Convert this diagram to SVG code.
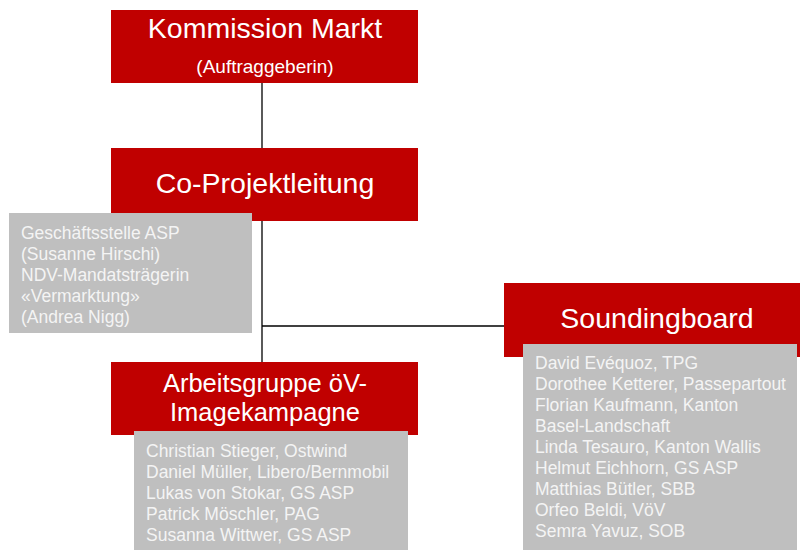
<svg xmlns="http://www.w3.org/2000/svg" width="800" height="550" viewBox="0 0 800 550">
  <style>
    .head { fill: #c00000; }
    .list { fill: #bfbfbf; }
    .title { font-family: "Liberation Sans", Arial, sans-serif; fill: #ffffff; text-anchor: middle; }
    .item { font-family: "Liberation Sans", Arial, sans-serif; font-size: 17.5px; fill: #f4f4f4; }
    .conn { stroke: #000000; stroke-width: 1.3; fill: none; }
  </style>
  <rect width="800" height="550" fill="#ffffff"/>

  <!-- connectors -->
  <g id="connectors">
    <line class="conn" x1="262" y1="83" x2="262" y2="148"/>
    <line class="conn" x1="262" y1="221" x2="262" y2="362"/>
    <line class="conn" x1="262" y1="326" x2="504" y2="326"/>
  </g>

  <g id="kommission-markt">
    <rect class="head" x="111" y="10" width="307" height="73"/>
    <text class="title" x="265" y="38" font-size="28.5">Kommission Markt</text>
    <text class="title" x="265" y="73" font-size="19">(Auftraggeberin)</text>
  </g>

  <g id="co-projektleitung">
    <rect class="head" x="111" y="148" width="307" height="73"/>
    <text class="title" x="265" y="193" font-size="28.5">Co-Projektleitung</text>
    <rect class="list" x="9" y="213" width="243" height="120"/>
    <text class="item" x="21" y="239">Geschäftsstelle ASP</text>
    <text class="item" x="21" y="260">(Susanne Hirschi)</text>
    <text class="item" x="21" y="281">NDV-Mandatsträgerin</text>
    <text class="item" x="21" y="302">«Vermarktung»</text>
    <text class="item" x="21" y="323">(Andrea Nigg)</text>
  </g>

  <g id="arbeitsgruppe">
    <rect class="head" x="111" y="362" width="307" height="73"/>
    <text class="title" x="265" y="392" font-size="25.5">Arbeitsgruppe öV-</text>
    <text class="title" x="265" y="421" font-size="25.5">Imagekampagne</text>
    <rect class="list" x="134" y="431" width="274" height="125"/>
    <text class="item" x="146" y="457">Christian Stieger, Ostwind</text>
    <text class="item" x="146" y="478">Daniel Müller, Libero/Bernmobil</text>
    <text class="item" x="146" y="499">Lukas von Stokar, GS ASP</text>
    <text class="item" x="146" y="520">Patrick Möschler, PAG</text>
    <text class="item" x="146" y="541">Susanna Wittwer, GS ASP</text>
  </g>

  <g id="soundingboard">
    <rect class="head" x="504" y="283" width="306" height="74"/>
    <text class="title" x="657" y="328" font-size="28.5">Soundingboard</text>
    <rect class="list" x="523" y="344" width="274" height="212"/>
    <text class="item" x="535" y="369">David Evéquoz, TPG</text>
    <text class="item" x="535" y="390">Dorothee Ketterer, Passepartout</text>
    <text class="item" x="535" y="411">Florian Kaufmann, Kanton</text>
    <text class="item" x="535" y="432">Basel-Landschaft</text>
    <text class="item" x="535" y="453">Linda Tesauro, Kanton Wallis</text>
    <text class="item" x="535" y="474">Helmut Eichhorn, GS ASP</text>
    <text class="item" x="535" y="495">Matthias Bütler, SBB</text>
    <text class="item" x="535" y="516">Orfeo Beldi, VöV</text>
    <text class="item" x="535" y="537">Semra Yavuz, SOB</text>
  </g>
</svg>
